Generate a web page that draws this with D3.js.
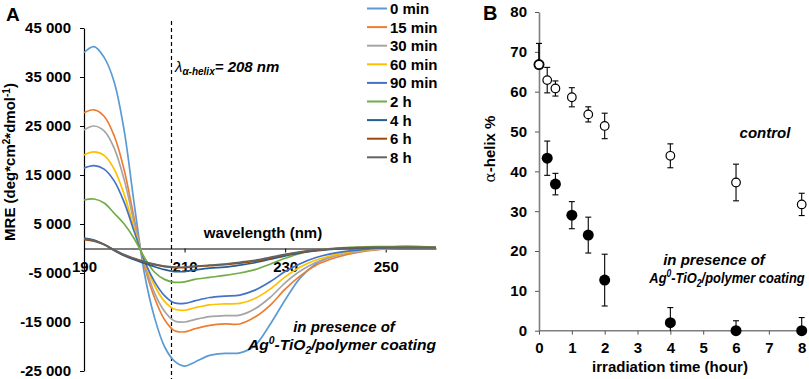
<!DOCTYPE html>
<html>
<head>
<meta charset="utf-8">
<script src="https://cdn.jsdelivr.net/npm/d3@7"></script>
<style>
  body { margin: 0; background: #fff; }
  svg { display: block; font-family: Arial, "Liberation Sans", sans-serif; }
</style>
</head>
<body>
<div id="chart"></div>
<script>
// Data - panel A (CD spectra)

const wavelengths = [190, 192, 194, 196, 198, 200, 202, 204, 206, 208, 210, 212, 215, 218, 221, 224, 227, 230, 233, 236, 239, 242, 245, 248, 251, 254, 257, 260];

const mre0min = [40000, 41200, 39000, 34000, 24000, 9000, -5000, -14000, -20000, -23000, -24000, -23200, -21800, -21400, -21300, -19800, -15500, -10500, -6000, -3200, -1700, -900, -500, -200, 0, 100, 100, 100];
const mre15min = [27700, 28300, 27000, 23000, 16000, 6000, -3500, -10000, -14500, -16800, -17000, -16400, -15700, -15400, -15400, -14000, -11600, -8300, -5600, -3500, -2200, -1300, -700, -300, 0, 100, 100, 100];
const mre30min = [24200, 25000, 24000, 20500, 14000, 5200, -3000, -9000, -12800, -14800, -15000, -14500, -13900, -13700, -13600, -12300, -10000, -7000, -4600, -2900, -1800, -1000, -600, -200, 0, 100, 100, 100];
const mre60min = [19100, 19700, 19000, 16200, 11000, 4000, -2600, -7500, -10800, -12400, -12600, -12100, -11500, -11300, -11200, -10200, -8300, -5800, -3800, -2400, -1500, -800, -400, -100, 100, 100, 100, 100];
const mre90min = [16400, 16900, 16200, 13800, 9400, 3400, -2400, -6700, -9600, -11100, -11200, -10700, -10000, -9700, -9500, -8500, -6800, -4700, -3100, -1900, -1100, -600, -300, 0, 100, 100, 100, 100];
const mre2h = [9900, 10100, 9300, 7200, 5000, 2000, -1800, -4800, -6300, -6900, -6800, -6300, -5900, -5500, -5000, -4300, -3200, -2000, -1000, -400, 0, 200, 300, 400, 400, 500, 400, 300];
const mre4h = [2100, 1700, 800, -400, -1500, -2300, -3000, -3700, -4300, -4700, -4700, -4400, -4000, -3800, -3400, -2900, -2200, -1500, -900, -500, -200, 0, 100, 200, 200, 200, 200, 200];
const mre6h = [1800, 1500, 800, -300, -1300, -2100, -2700, -3300, -3700, -3900, -3900, -3700, -3500, -3300, -3000, -2600, -2000, -1300, -800, -400, -100, 100, 200, 200, 200, 200, 200, 200];
const mre8h = [2000, 1600, 800, -300, -1300, -2000, -2700, -3200, -3600, -3800, -3800, -3600, -3400, -3200, -2800, -2400, -1800, -1200, -700, -300, -100, 100, 200, 200, 200, 200, 200, 200];

const seriesNames = ["0 min", "15 min", "30 min", "60 min", "90 min", "2 h", "4 h", "6 h", "8 h"];
const seriesValues = [mre0min, mre15min, mre30min, mre60min, mre90min, mre2h, mre4h, mre6h, mre8h];
const seriesColors = ["#5b9bd5", "#ed7d31", "#a5a5a5", "#ffc000", "#4472c4", "#70ad47", "#255e91", "#9e480e", "#636363"];

const mreTicks = [-25000, -15000, -5000, 5000, 15000, 25000, 35000, 45000];
const wavelengthTicks = [190, 210, 230, 250];
const dashWavelength = 207.4;

// Data - panel B (helix content)

const times = [0, 0.25, 0.5, 1, 1.5, 2, 4, 6, 8];
const helixControl = [66.8, 62.9, 60.8, 58.6, 54.3, 51.4, 43.9, 37.2, 31.7];
const sdControl = [5.3, 3.2, 1.9, 2.4, 1.9, 3.2, 3.0, 4.6, 2.8];
const helixCoating = [66.8, 43.3, 36.8, 29.0, 24.0, 12.7, 2.0, 0, 0];
const sdCoating = [5.3, 4.3, 2.7, 3.4, 4.5, 6.5, 3.8, 2.5, 3.3];

const helixTicks = [0, 10, 20, 30, 40, 50, 60, 70, 80];
const timeTicks = [0, 1, 2, 3, 4, 5, 6, 7, 8];

// Config

const width = 809;
const height = 379;
const bold = "bold";

const svg = d3.select("#chart")
  .append("svg")
  .attr("width", width)
  .attr("height", height);

const fmt = d3.formatLocale({ decimal: ".", thousands: " ", grouping: [3], currency: ["", ""], minus: "-" }).format(",");

// coating label with super/subscripts, reused in both panels
function coatingNote(g, x, y, xScale) {
  const t = g.append("g")
    .attr("transform", `translate(${x},${y}) scale(${xScale},1)`)
    .append("text")
    .attr("text-anchor", "middle")
    .attr("font-size", 15).attr("font-weight", bold).attr("font-style", "italic");
  t.append("tspan").text("Ag");
  t.append("tspan").attr("font-size", 10).attr("dy", -6).text("0");
  t.append("tspan").attr("dy", 6).text("-TiO");
  t.append("tspan").attr("font-size", 10).attr("dy", 4).text("2");
  t.append("tspan").attr("dy", -4).text("/polymer coating");
}

//
// Panel A
//

const xA = d3.scaleLinear().domain([190, 260]).range([84, 436]);
const yA = d3.scaleLinear().domain([-25000, 45000]).range([371, 28]);

const gA = svg.append("g");

// y axis
const yAxisA = gA.append("g")
  .attr("transform", "translate(84,0)")
  .call(d3.axisLeft(yA).tickValues(mreTicks).tickFormat(fmt).tickSize(4).tickSizeOuter(0).tickPadding(9));

yAxisA.select(".domain").attr("stroke", "#000").attr("stroke-width", 1.2);
yAxisA.selectAll(".tick text").attr("font-size", 15).attr("font-weight", bold).attr("fill", "#000");

// x axis at zero
const xAxisA = gA.append("g")
  .attr("transform", `translate(0,${yA(0)})`)
  .call(d3.axisBottom(xA).tickValues(wavelengthTicks).tickFormat(d3.format("d")).tickSize(4).tickSizeOuter(0).tickPadding(9));

xAxisA.select(".domain").attr("stroke", "#000").attr("stroke-width", 1.2);
xAxisA.selectAll(".tick text").attr("font-size", 15).attr("font-weight", bold).attr("fill", "#000");

// dashed marker
gA.append("line")
  .attr("x1", xA(dashWavelength)).attr("x2", xA(dashWavelength))
  .attr("y1", 21).attr("y2", height)
  .attr("stroke", "#000").attr("stroke-width", 1.2)
  .attr("stroke-dasharray", "4,3");

// curves
const line = d3.line()
  .x((d, i) => xA(wavelengths[i]))
  .y(d => yA(d))
  .curve(d3.curveCatmullRom.alpha(0.5));

gA.selectAll("path.curve")
  .data(seriesValues)
  .join("path")
  .attr("class", "curve")
  .attr("d", line)
  .attr("fill", "none")
  .attr("stroke", (d, i) => seriesColors[i])
  .attr("stroke-width", 1.7);

// legend
const legend = gA.selectAll("g.legend")
  .data(seriesNames)
  .join("g")
  .attr("class", "legend")
  .attr("transform", (d, i) => `translate(367,${8.5 + i * 18.6})`);

legend.append("line")
  .attr("x1", 0).attr("x2", 20)
  .attr("stroke", (d, i) => seriesColors[i])
  .attr("stroke-width", 2);

legend.append("text")
  .attr("x", 23)
  .attr("dy", "0.36em")
  .attr("font-size", 15)
  .attr("font-weight", bold)
  .text(d => d);

// labels
gA.append("text")
  .attr("x", 6).attr("y", 21)
  .attr("font-size", 19).attr("font-weight", bold)
  .text("A");

const mreLabel = gA.append("text")
  .attr("transform", "translate(15,162) rotate(-90)")
  .attr("text-anchor", "middle")
  .attr("font-size", 15).attr("font-weight", bold);
mreLabel.append("tspan").text("MRE (deg*cm");
mreLabel.append("tspan").attr("font-size", 10).attr("dy", -5).text("2");
mreLabel.append("tspan").attr("dy", 5).text("*dmol");
mreLabel.append("tspan").attr("font-size", 10).attr("dy", -5).text("-1");
mreLabel.append("tspan").attr("dy", 5).text(")");

gA.append("text")
  .attr("x", 263).attr("y", 238)
  .attr("text-anchor", "middle")
  .attr("font-size", 15).attr("font-weight", bold)
  .text("wavelength (nm)");

const lambda = gA.append("text")
  .attr("x", 175).attr("y", 72)
  .attr("font-size", 15).attr("font-style", "italic");
lambda.append("tspan").text("λ");
lambda.append("tspan").attr("font-size", 10).attr("font-weight", bold).attr("dy", 3).text("α-helix");
lambda.append("tspan").attr("font-weight", bold).attr("dy", -3).text("= 208 nm");

gA.append("text")
  .attr("x", 344).attr("y", 332)
  .attr("text-anchor", "middle")
  .attr("font-size", 15).attr("font-weight", bold).attr("font-style", "italic")
  .text("in presence of");
coatingNote(gA, 342, 350, 1.04);

//
// Panel B
//

const xB = d3.scaleLinear().domain([0, 8]).range([539, 801.7]);
const yB = d3.scaleLinear().domain([0, 80]).range([330.7, 12]);

const gB = svg.append("g");

const yAxisB = gB.append("g")
  .attr("transform", "translate(539,0)")
  .call(d3.axisLeft(yB).tickValues(helixTicks).tickSize(4).tickSizeOuter(0).tickPadding(8));

const xAxisB = gB.append("g")
  .attr("transform", `translate(0,${yB(0)})`)
  .call(d3.axisBottom(xB).tickValues(timeTicks).tickSize(4).tickSizeOuter(0).tickPadding(8));

[yAxisB, xAxisB].forEach(ax => {
  ax.select(".domain").attr("stroke", "#7f7f7f").attr("stroke-width", 1.6);
  ax.selectAll(".tick line").attr("stroke", "#555");
  ax.selectAll(".tick text").attr("font-size", 15).attr("font-weight", bold).attr("fill", "#000");
});

xAxisB.select(".domain").attr("d", `M${xB(0)},0H${xB(8) + 4}`);

// error bars (lower caps hidden where they fall on an axis)
function errorBars(values, sds) {
  const rows = times.map((t, i) => ({ t: t, v: values[i], lo: Math.max(0, values[i] - sds[i]), hi: values[i] + sds[i], cut: values[i] - sds[i] < 0 || t === 0 }));
  const g = gB.append("g").attr("stroke", "#000").attr("stroke-width", 1.1);
  g.selectAll("line.bar").data(rows).join("line")
    .attr("x1", d => xB(d.t)).attr("x2", d => xB(d.t))
    .attr("y1", d => yB(d.t === 0 ? d.v : d.lo)).attr("y2", d => yB(d.hi));
  g.selectAll("line.top").data(rows).join("line")
    .attr("x1", d => xB(d.t) - 3).attr("x2", d => xB(d.t) + 3)
    .attr("y1", d => yB(d.hi)).attr("y2", d => yB(d.hi));
  g.selectAll("line.bot").data(rows.filter(d => !d.cut)).join("line")
    .attr("x1", d => xB(d.t) - 3).attr("x2", d => xB(d.t) + 3)
    .attr("y1", d => yB(d.lo)).attr("y2", d => yB(d.lo));
}

errorBars(helixCoating, sdCoating);
errorBars(helixControl, sdControl);

// dots
gB.selectAll("circle.coating")
  .data(helixCoating)
  .join("circle")
  .attr("class", "coating")
  .attr("cx", (d, i) => xB(times[i]))
  .attr("cy", d => yB(d))
  .attr("r", 5.5)
  .attr("fill", "#000");

gB.selectAll("circle.control")
  .data(helixControl)
  .join("circle")
  .attr("class", "control")
  .attr("cx", (d, i) => xB(times[i]))
  .attr("cy", d => yB(d))
  .attr("r", 4.3)
  .attr("fill", "#fff")
  .attr("stroke", "#000")
  .attr("stroke-width", 1.2);

// labels
gB.append("text")
  .attr("x", 483).attr("y", 20)
  .attr("font-size", 20).attr("font-weight", bold)
  .text("B");

const helixLabel = gB.append("text")
  .attr("transform", "translate(495,149) rotate(-90)")
  .attr("text-anchor", "middle")
  .attr("font-size", 15);
helixLabel.append("tspan").attr("font-family", "'DejaVu Serif', serif").text("α");
helixLabel.append("tspan").attr("font-weight", bold).text("-helix %");

gB.append("text")
  .attr("x", 670).attr("y", 372)
  .attr("text-anchor", "middle")
  .attr("font-size", 15).attr("font-weight", bold)
  .text("irradiation time (hour)");

gB.append("text")
  .attr("x", 765).attr("y", 138)
  .attr("text-anchor", "middle")
  .attr("font-size", 15).attr("font-weight", bold).attr("font-style", "italic")
  .text("control");

gB.append("text")
  .attr("x", 714).attr("y", 265)
  .attr("text-anchor", "middle")
  .attr("font-size", 15).attr("font-weight", bold).attr("font-style", "italic")
  .text("in presence of");
coatingNote(gB, 727, 283, 0.86);
</script>
</body>
</html>
